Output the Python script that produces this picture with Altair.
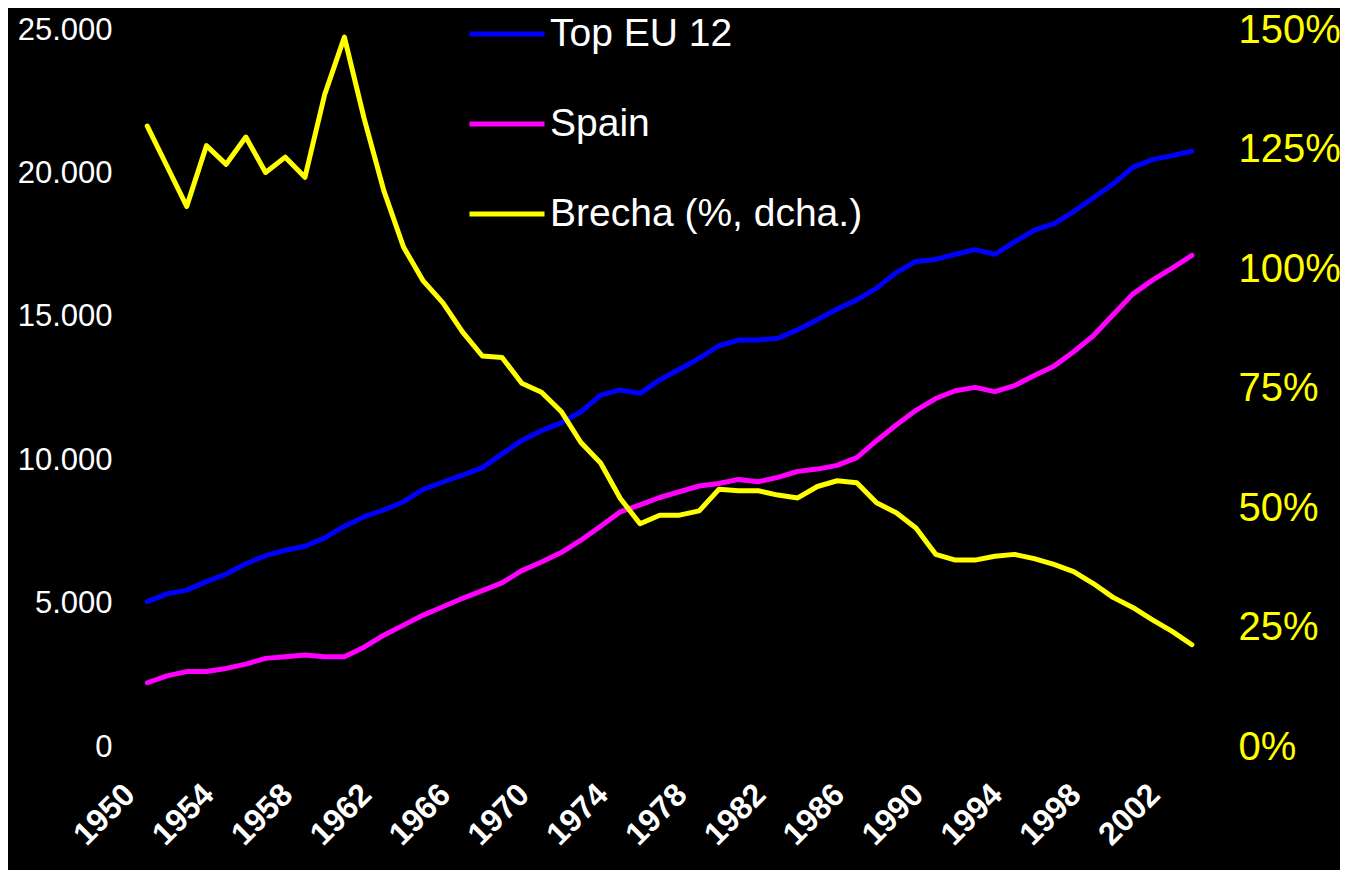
import altair as alt
import pandas as pd

years = list(range(1950, 2004))

top_eu12 = [5070, 5340, 5470, 5765, 6030, 6390, 6670, 6860, 7000, 7290,
            7700, 8030, 8264, 8553, 8980, 9240, 9480, 9740, 10220, 10690,
            11030, 11300, 11690, 12270, 12450, 12330, 12800, 13170, 13550, 13990,
            14190, 14190, 14250, 14550, 14900, 15270, 15590, 16000, 16540, 16930,
            17000, 17180, 17340, 17180, 17610, 18020, 18240, 18670, 19150, 19630,
            20210, 20480, 20620, 20770]

spain = [2240, 2480, 2630, 2630, 2740, 2890, 3090, 3150, 3210, 3150,
         3150, 3480, 3900, 4250, 4600, 4890, 5185, 5450, 5725, 6150,
         6450, 6780, 7210, 7700, 8200, 8440, 8700, 8900, 9100, 9190,
         9330, 9250, 9400, 9610, 9690, 9820, 10090, 10680, 11230, 11740,
         12150, 12420, 12540, 12390, 12600, 12950, 13280, 13780, 14340, 15070,
         15790, 16280, 16700, 17140]

brecha_pct = [129.9, 121.5, 113.1, 125.8, 121.9, 127.6, 120.2, 123.4, 119.2, 136.5,
              148.5, 131.5, 116.4, 104.6, 97.5, 92.9, 86.8, 81.8, 81.5, 76.1,
              74.2, 70.2, 63.7, 59.4, 52.0, 46.7, 48.5, 48.5, 49.4, 53.9,
              53.6, 53.6, 52.7, 52.1, 54.5, 55.7, 55.3, 51.1, 49.0, 45.8,
              40.3, 39.1, 39.1, 39.9, 40.3, 39.4, 38.2, 36.7, 34.2, 31.3,
              29.2, 26.6, 24.2, 21.4]

series_names = ["Top EU 12", "Spain", "Brecha (%, dcha.)"]
series_colors = ["#0000FF", "#FF00FF", "#FFFF00"]
x_tick_years = list(range(1950, 2003, 4))
left_ticks = [0, 5000, 10000, 15000, 20000, 25000]
right_ticks = [0, 0.25, 0.5, 0.75, 1.0, 1.25, 1.5]

n = len(years)
left_df = pd.DataFrame({
    "year": years + years,
    "value": top_eu12 + spain,
    "series": [series_names[0]] * n + [series_names[1]] * n,
})
right_df = pd.DataFrame({
    "year": years,
    "value": [b / 100 for b in brecha_pct],
    "series": [series_names[2]] * n,
})

FONT = "Liberation Sans"

x_enc = alt.X(
    "year:Q",
    scale=alt.Scale(domain=[1948.615, 2004.68], nice=False, zero=False),
    axis=alt.Axis(values=x_tick_years, format="d", labelAngle=315, labelAlign="right",
                  labelBaseline="middle", labelFont=FONT, labelFontWeight="bold",
                  labelFontSize=32, labelColor="white", labelPadding=42, labelOffset=-18,
                  ticks=False, domain=False, grid=False, title=None,
                  labelOverlap=False, labelFlush=False),
)

color_enc = alt.Color(
    "series:N",
    scale=alt.Scale(domain=series_names, range=series_colors),
    legend=alt.Legend(title=None, orient="none", legendX=347, legendY=-36,
                      symbolType="stroke", symbolSize=5625, symbolStrokeWidth=5,
                      labelFontSize=39, labelColor="white", labelFont=FONT,
                      labelOffset=3, rowPadding=30, padding=0, labelLimit=0),
)

left_layer = alt.Chart(left_df).mark_line(strokeWidth=5, strokeCap="round", strokeJoin="round").encode(
    x=x_enc,
    y=alt.Y("value:Q", scale=alt.Scale(domain=[0, 25000], nice=False),
            axis=alt.Axis(values=left_ticks, orient="left",
                          labelExpr="datum.value == 0 ? '0' : format(datum.value / 1000, 'd') + '.000'",
                          labelFont=FONT, labelFontSize=31, labelColor="white", labelPadding=8,
                          ticks=False, domain=False, grid=False, title=None, labelOverlap=False)),
    color=color_enc,
    detail="series:N",
)

right_layer = alt.Chart(right_df).mark_line(strokeWidth=5, strokeCap="round", strokeJoin="round").encode(
    x=x_enc,
    y=alt.Y("value:Q", scale=alt.Scale(domain=[0, 1.5], nice=False),
            axis=alt.Axis(values=right_ticks, orient="right", format=".0%",
                          labelFont=FONT, labelFontSize=40, labelColor="#FFFF00", labelPadding=13,
                          ticks=False, domain=False, grid=False, title=None, labelOverlap=False)),
    color=color_enc,
)

chart = alt.layer(left_layer, right_layer).resolve_scale(y="independent").properties(
    width=1105, height=717,
    autosize=alt.AutoSizeParams(type="none"),
    padding={"left": 112, "top": 22, "right": 115, "bottom": 123},
    background="black",
).configure_view(stroke=None)

chart.save("out.html", embed_options={"renderer": "svg", "actions": False})
